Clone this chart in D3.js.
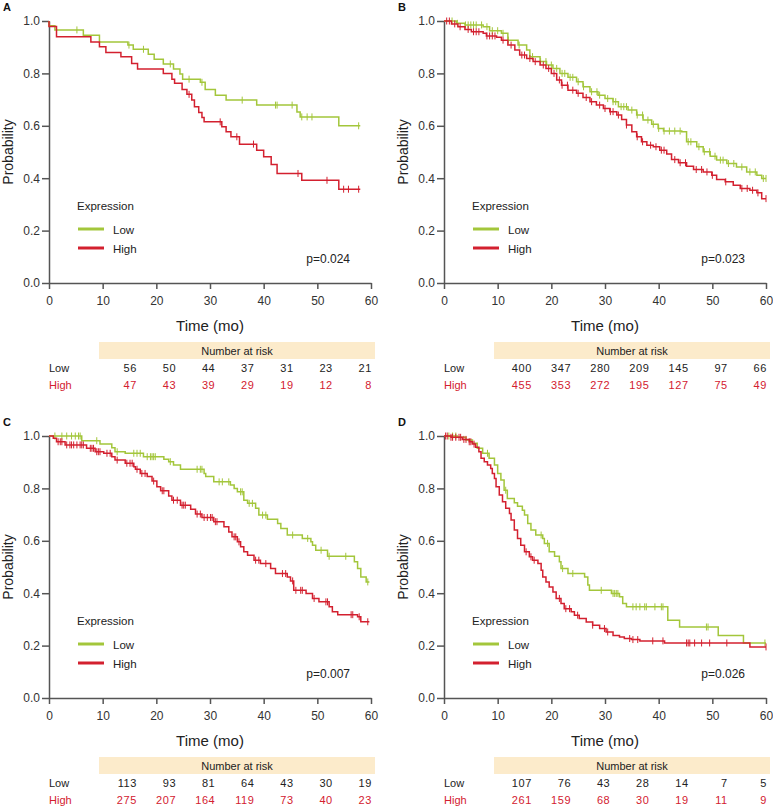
<!DOCTYPE html>
<html><head><meta charset="utf-8">
<script src="https://cdn.jsdelivr.net/npm/d3@7"></script>
<style>
html,body{margin:0;padding:0;background:#fff;}
svg text{font-family:"Liberation Sans",Arial,sans-serif;}
</style></head>
<body><svg id="chart" width="773" height="807"></svg>
<script>
// ---------------- DATA ----------------
const panelLabels = ["A","B","C","D"];
const pValues = ["p=0.024","p=0.023","p=0.007","p=0.026"];
const xTicks = [0,10,20,30,40,50,60];
const yTicks = [0,0.2,0.4,0.6,0.8,1.0];
const legendTitle = "Expression";
const groupNames = ["Low","High"];

// Panel A
const A_low = [[0,1],[0,0.982],[1.1,0.966],[6.4,0.946],[9.4,0.92],[14.7,0.908],[15.7,0.892],[18.5,0.873],[19.6,0.854],[21.3,0.836],[23.2,0.817],[24.4,0.798],[24.9,0.778],[28.2,0.766],[29.1,0.739],[31.0,0.717],[33.0,0.698],[38.7,0.679],[46.2,0.653],[46.8,0.634],[54.0,0.6]];
const A_lowEnd = 58.0;
const A_lowCens = [5.2,14.9,17.6,22.6,26.1,28.5,36.0,42.2,42.5,45.3,47.1,48.1,49.0,57.7];
const A_high = [[0,1],[0,0.979],[1.4,0.94],[7.8,0.92],[9.4,0.902],[10.6,0.88],[13.4,0.864],[15.4,0.838],[16.5,0.817],[21.3,0.8],[22.9,0.778],[23.4,0.762],[24.8,0.739],[25.7,0.72],[26.6,0.698],[27.1,0.673],[27.9,0.651],[28.5,0.632],[28.9,0.615],[32.2,0.596],[33.0,0.577],[33.9,0.558],[35.5,0.53],[38.7,0.507],[40.0,0.482],[41.4,0.452],[42.5,0.418],[47.1,0.392],[54.0,0.358]];
const A_highEnd = 58.0;
const A_highCens = [26.1,31.9,35.0,38.1,46.4,51.8,54.9,55.8,57.7];
const A_riskLow = [56,50,44,37,31,23,21];
const A_riskHigh = [47,43,39,29,19,12,8];

// Panel B
const B_low = [[0,1],[2.3,0.991],[3.9,0.985],[7.3,0.978],[8.5,0.963],[10.7,0.953],[11.9,0.927],[13.8,0.908],[15.4,0.889],[16.0,0.864],[17.9,0.845],[19.1,0.832],[20.3,0.819],[21.6,0.8],[23.1,0.785],[24.7,0.768],[25.9,0.749],[27.2,0.73],[28.7,0.717],[30.0,0.704],[31.5,0.692],[32.5,0.673],[34.3,0.66],[35.9,0.641],[37.1,0.622],[38.7,0.606],[39.9,0.59],[40.9,0.58],[44.3,0.577],[45.2,0.539],[47.1,0.52],[48.3,0.501],[49.6,0.484],[50.8,0.469],[52.7,0.456],[54.5,0.443],[56.4,0.424],[58.3,0.411],[59.2,0.399]];
const B_lowEnd = 60;
const B_lowCens = [1.5,2.5,4,4.5,5,5.5,6,7,8,9,10,11,12,14,16.5,18,19,20,21,22,22.5,23.5,24,25,26,27.5,28.5,29,30.5,31.5,32,33,33.5,34,35,36,37,38,39,40,41,42,43,44,45.5,46,47.5,48.5,49.5,50.5,51.5,52,53,54,55.5,57,58,59.5,60];
const B_high = [[0,1],[1.4,0.989],[2.6,0.978],[3.9,0.968],[5.1,0.959],[7.3,0.953],[7.9,0.943],[9.8,0.938],[10.7,0.927],[11.9,0.908],[13.2,0.889],[14.1,0.87],[15.4,0.857],[16.6,0.845],[17.9,0.832],[19.0,0.819],[20.0,0.8],[21.0,0.775],[21.9,0.755],[23.1,0.736],[24.7,0.724],[25.9,0.708],[27.2,0.692],[28.4,0.679],[29.7,0.666],[30.9,0.654],[32.2,0.641],[33.1,0.624],[34.0,0.603],[35.0,0.577],[35.9,0.558],[36.8,0.539],[37.8,0.526],[39.0,0.52],[40.2,0.507],[41.5,0.492],[42.4,0.471],[43.7,0.459],[45.2,0.446],[46.5,0.433],[48.3,0.424],[49.9,0.411],[50.8,0.395],[52.4,0.386],[53.9,0.373],[55.2,0.361],[57.0,0.354],[58.3,0.344],[59.2,0.322]];
const B_highEnd = 60;
const B_highCens = [0.5,1,2,3,4.5,5.5,6,6.5,8,8.5,9,9.5,11,12.5,14.5,15,16,17,18.5,19.5,20.5,21.5,22,23,24,25,26.5,27.5,29,30,31,31.5,32.5,34,36,37,38.5,39.5,40.5,41,43,44,45,47,48,49,50,52.5,55.5,56.5,57.5,58.5,60];
const B_riskLow = [400,347,280,209,145,97,66];
const B_riskHigh = [455,353,272,195,127,75,49];

// Panel C
const C_low = [[0,1],[6.1,0.982],[9.5,0.969],[11.7,0.955],[12.3,0.94],[14.2,0.934],[17.6,0.921],[21.4,0.911],[22.3,0.902],[23.2,0.889],[24.5,0.873],[28.9,0.857],[29.2,0.845],[30.7,0.825],[33.8,0.813],[34.5,0.8],[35.1,0.787],[36.3,0.755],[37.0,0.743],[38.5,0.724],[39.1,0.698],[40.7,0.682],[42.6,0.666],[43.2,0.647],[44.4,0.622],[47.2,0.609],[48.8,0.596],[49.1,0.583],[49.7,0.564],[51.9,0.541],[56.9,0.52],[57.5,0.494],[58.1,0.462],[59.1,0.443]];
const C_lowEnd = 59.7;
const C_lowCens = [1.1,2.4,3.3,4.2,4.9,5.5,5.8,8.9,12.7,15.8,16.4,17.0,18.3,18.9,19.2,19.5,19.8,22.6,27.6,28.2,28.5,31.7,32.3,33.5,35.7,36.0,37.3,37.9,39.8,40.4,45.4,48.2,50.7,52.2,55.3,59.4];
const C_high = [[0,1],[0.8,0.991],[1.4,0.978],[3.0,0.966],[7.0,0.953],[8.6,0.94],[10.2,0.934],[11.7,0.921],[12.3,0.908],[14.2,0.896],[15.8,0.883],[16.1,0.873],[17.0,0.857],[18.3,0.845],[19.2,0.828],[20.1,0.806],[20.8,0.791],[22.3,0.771],[22.9,0.755],[24.5,0.736],[26.4,0.72],[27.3,0.702],[28.5,0.689],[30.7,0.673],[32.6,0.654],[33.5,0.634],[34.1,0.615],[35.1,0.596],[35.7,0.577],[36.3,0.558],[37.0,0.545],[38.2,0.526],[39.4,0.513],[41.3,0.494],[42.2,0.475],[44.4,0.462],[45.0,0.447],[45.6,0.411],[47.9,0.399],[49.1,0.38],[50.3,0.367],[52.2,0.348],[52.8,0.329],[53.8,0.318],[57.5,0.31],[58.1,0.291]];
const C_highEnd = 59.7;
const C_highCens = [1.7,2.1,2.4,3.3,3.9,4.2,4.6,5.2,5.8,6.1,6.4,7.7,8.0,8.3,8.9,9.2,9.5,10.8,11.4,12.7,14.5,15.1,15.5,16.4,17.3,17.9,19.5,21.1,21.4,23.2,23.9,24.8,25.1,25.4,27.6,28.2,28.9,29.5,30.1,30.4,31.0,31.3,34.5,34.8,35.4,38.5,39.1,40.4,43.5,44.1,45.4,46.0,46.9,47.2,49.4,51.6,51.9,56.3,56.6,57.8,59.4];
const C_riskLow = [113,93,81,64,43,30,19];
const C_riskHigh = [275,207,164,119,73,40,23];

// Panel D
const D_low = [[0,1],[2.5,0.995],[4.1,0.985],[5.3,0.972],[6.2,0.953],[7.2,0.934],[8.4,0.915],[9.4,0.889],[10.0,0.857],[10.6,0.832],[11.2,0.793],[11.8,0.761],[13.1,0.745],[13.7,0.732],[14.6,0.717],[15.0,0.698],[15.6,0.666],[16.2,0.641],[17.1,0.622],[18.4,0.609],[18.7,0.59],[19.6,0.558],[20.6,0.541],[21.5,0.52],[21.8,0.494],[23.1,0.475],[26.2,0.462],[26.8,0.431],[27.1,0.411],[31.2,0.399],[32.7,0.386],[33.3,0.361],[34.0,0.348],[41.7,0.297],[43.9,0.271],[51.1,0.239],[55.8,0.21]];
const D_lowEnd = 60;
const D_lowCens = [0.9,1.6,2.2,8.1,11.5,18.1,19.3,22.1,24.0,29.3,31.5,31.8,32.1,32.4,35.2,35.8,36.5,37.4,37.7,39.3,40.5,40.8,48.9,49.2,59.8];
const D_high = [[0,1],[1.3,0.995],[3.4,0.987],[4.7,0.978],[5.3,0.969],[5.9,0.957],[6.5,0.94],[6.9,0.915],[7.5,0.902],[8.1,0.889],[8.7,0.876],[9.0,0.857],[9.4,0.838],[9.7,0.806],[10.3,0.775],[10.9,0.749],[11.5,0.724],[12.2,0.704],[12.5,0.679],[13.1,0.641],[13.7,0.609],[14.3,0.583],[15.0,0.558],[15.9,0.539],[16.5,0.526],[17.5,0.513],[18.1,0.488],[18.4,0.462],[19.0,0.443],[19.6,0.424],[20.3,0.405],[20.9,0.38],[21.8,0.361],[22.4,0.341],[23.7,0.329],[24.3,0.316],[25.2,0.303],[26.5,0.29],[27.7,0.278],[29.0,0.265],[30.2,0.252],[31.5,0.239],[32.7,0.233],[33.6,0.227],[34.9,0.223],[36.5,0.218],[41.1,0.21],[57.0,0.195]];
const D_highEnd = 60;
const D_highCens = [0.3,0.6,1.3,1.6,2.2,2.8,3.1,3.7,4.1,4.7,5.0,5.6,15.3,16.2,16.8,21.5,22.7,23.4,24.9,27.7,29.9,30.5,34.6,35.2,36.1,38.9,40.8,45.2,45.5,45.8,46.7,48.0,49.5,52.7,60];
const D_riskLow = [107,76,43,28,14,7,5];
const D_riskHigh = [261,159,68,30,19,11,9];

// ---------------- DRAW ----------------
const colLow = "#a3c63b", colHigh = "#d3202f";
const svg = d3.select("#chart");
const panels = [
  {ox:0,   oy:0,   low:A_low, lowEnd:A_lowEnd, lowC:A_lowCens, high:A_high, highEnd:A_highEnd, highC:A_highCens, rl:A_riskLow, rh:A_riskHigh},
  {ox:395, oy:0,   low:B_low, lowEnd:B_lowEnd, lowC:B_lowCens, high:B_high, highEnd:B_highEnd, highC:B_highCens, rl:B_riskLow, rh:B_riskHigh},
  {ox:0,   oy:415, low:C_low, lowEnd:C_lowEnd, lowC:C_lowCens, high:C_high, highEnd:C_highEnd, highC:C_highCens, rl:C_riskLow, rh:C_riskHigh},
  {ox:395, oy:415, low:D_low, lowEnd:D_lowEnd, lowC:D_lowCens, high:D_high, highEnd:D_highEnd, highC:D_highCens, rl:D_riskLow, rh:D_riskHigh}
];

function stepAt(steps, t){
  let s = steps[0][1];
  for (const p of steps){ if (p[0] <= t) s = p[1]; else break; }
  return s;
}

panels.forEach((p,i)=>{
  const g = svg.append("g").attr("transform",`translate(${p.ox},${p.oy})`);
  const x = d3.scaleLinear().domain([0,60]).range([49,371]);
  const y = d3.scaleLinear().domain([0,1]).range([283,21]);

  g.append("text").attr("x",3).attr("y",11).attr("font-size",11).attr("font-weight","bold")
    .attr("fill","#111").text(panelLabels[i]);

  // axes
  const ax = g.append("g").attr("transform","translate(0,283)")
    .call(d3.axisBottom(x).tickValues(xTicks).tickFormat(d3.format("d")).tickSize(6).tickSizeOuter(0).tickPadding(7));
  const ay = g.append("g").attr("transform","translate(49,0)")
    .call(d3.axisLeft(y).tickValues(yTicks).tickFormat(d3.format(".1f")).tickSize(7).tickSizeOuter(0).tickPadding(2));
  [ax,ay].forEach(a=>{
    a.selectAll("path,line").attr("stroke","#555").attr("stroke-width",1.5);
    a.selectAll("text").attr("font-size",12).attr("fill","#333").attr("font-family","Liberation Sans, Arial, sans-serif");
  });

  g.append("text").attr("transform","translate(13,152) rotate(-90)").attr("text-anchor","middle")
    .attr("font-size",14).attr("fill","#222").attr("font-family","Noto Sans, sans-serif").text("Probability");
  g.append("text").attr("x",210).attr("y",331).attr("text-anchor","middle")
    .attr("font-size",15).attr("fill","#222").attr("font-family","Noto Sans, sans-serif").text("Time (mo)");

  // curves
  const line = d3.line().x(d=>x(d[0])).y(d=>y(d[1])).curve(d3.curveStepAfter);
  [[p.low,p.lowEnd,p.lowC,colLow],[p.high,p.highEnd,p.highC,colHigh]].forEach(([steps,end,cens,col])=>{
    const pts = steps.concat([[end, steps[steps.length-1][1]]]);
    g.append("path").attr("d",line(pts)).attr("fill","none").attr("stroke",col).attr("stroke-width",1.5);
    g.selectAll(null).data(cens).enter().append("line")
      .attr("x1",d=>x(d)).attr("x2",d=>x(d))
      .attr("y1",d=>y(stepAt(steps,d))-3.5).attr("y2",d=>y(stepAt(steps,d))+3.5)
      .attr("stroke",col).attr("stroke-width",1);
  });

  // legend
  const lf = "Noto Sans, sans-serif";
  g.append("text").attr("x",77).attr("y",210).attr("font-size",11.5).attr("fill","#222").attr("font-family",lf).text(legendTitle);
  [[colLow,229,233.5,groupNames[0]],[colHigh,248,252.5,groupNames[1]]].forEach(([c,ly,ty,t])=>{
    g.append("line").attr("x1",78).attr("x2",104).attr("y1",ly).attr("y2",ly).attr("stroke",c).attr("stroke-width",3);
    g.append("text").attr("x",113).attr("y",ty).attr("font-size",11.5).attr("fill","#222").attr("font-family",lf).text(t);
  });
  g.append("text").attr("x",350).attr("y",263).attr("text-anchor","end").attr("font-size",12)
    .attr("fill","#222").attr("font-family","Liberation Sans, Arial, sans-serif").text(pValues[i]);

  // number at risk
  g.append("rect").attr("x",99).attr("y",342).attr("width",276).attr("height",17).attr("fill","#fcebcb");
  g.append("text").attr("x",237).attr("y",354.5).attr("text-anchor","middle").attr("font-size",11)
    .attr("fill","#222").attr("font-family",lf).text("Number at risk");
  const cx = d3.scalePoint().domain(d3.range(7)).range([137,372]);
  [[p.rl,372,"#222",groupNames[0]],[p.rh,389,colHigh,groupNames[1]]].forEach(([vals,ty,c,name])=>{
    g.append("text").attr("x",49).attr("y",ty).attr("font-size",11).attr("fill",c).attr("font-family",lf).text(name);
    g.selectAll(null).data(vals).enter().append("text")
      .attr("x",(d,j)=>cx(j)).attr("y",ty).attr("text-anchor","end").attr("font-size",11)
      .attr("fill",c).attr("font-family",lf).attr("letter-spacing",0.6).text(d=>d);
  });
});
</script></body></html>
